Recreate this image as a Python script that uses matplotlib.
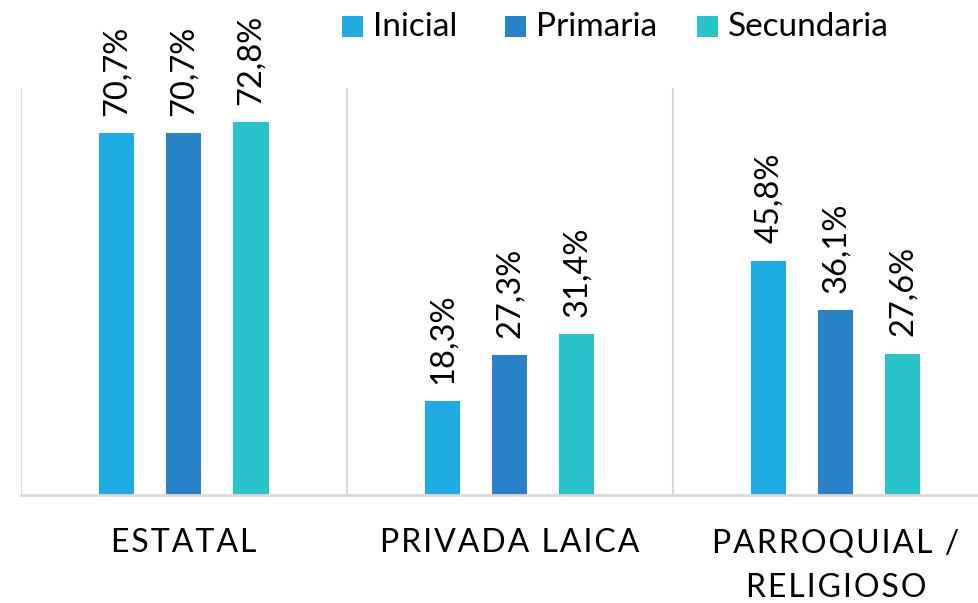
import matplotlib
matplotlib.use("Agg")
import matplotlib.pyplot as plt
from matplotlib.patches import Rectangle
import numpy as np

plt.rcParams['font.family'] = ['Lato', 'DejaVu Sans']

categories = ["ESTATAL", "PRIVADA LAICA", "PARROQUIAL /\nRELIGIOSO"]
series_names = ["Inicial", "Primaria", "Secundaria"]
inicial = [70.7, 18.3, 45.8]
primaria = [70.7, 27.3, 36.1]
secundaria = [72.8, 31.4, 27.6]
colors = ["#1EACE3", "#2882C7", "#28C4CA"]

W, H = 979, 603
fig = plt.figure(figsize=(W / 100, H / 100), dpi=100)
ax = fig.add_axes([21 / W, (H - 495) / H, 978 / W, 407 / H])

x = np.arange(len(categories))
spacing = 67 / 326
width = 35 / 326
series = [inicial, primaria, secundaria]
for i, (vals, c) in enumerate(zip(series, colors)):
    pos = x + (i - 1) * spacing
    ax.bar(pos, vals, width=width, color=c, zorder=2)
    for px, v in zip(pos, vals):
        ax.annotate(f"{v:.1f}%".replace(".", ","), xy=(px, v), xytext=(0, 12.5),
                    textcoords="offset points", rotation=90, ha="center",
                    va="bottom", fontsize=23.5, color="black")

ax.set_xlim(-0.5, 2.5)
ax.set_ylim(0, 79.5)
for b in [-0.5, 0.5, 1.5, 2.5]:
    ax.axvline(b, color="#D9D9D9", lw=1.5, zorder=1)
for s in ["top", "right", "left"]:
    ax.spines[s].set_visible(False)
ax.spines["bottom"].set_color("#D9D9D9")
ax.spines["bottom"].set_linewidth(2)
ax.set_yticks([])
ax.set_xticks(x)

def spaced(s):
    return "\n".join("\u200a".join(line) for line in s.split("\n"))

ax.set_xticklabels([spaced(c) for c in categories], fontsize=23, linespacing=1.62)
ax.tick_params(axis="x", length=0, pad=24)

# legend drawn as squares + labels
sq = 21
leg_x = [342, 505, 697]
for lx, name, c in zip(leg_x, series_names, colors):
    fig.patches.append(Rectangle((lx / W, 1 - 37 / H), sq / W, sq / H,
                                 transform=fig.transFigure, facecolor=c,
                                 edgecolor="none"))
    fig.text((lx + 31) / W, 1 - 26.5 / H, name, fontsize=24, ha="left",
             va="center", color="black")

fig.savefig("out.png", dpi=100)
